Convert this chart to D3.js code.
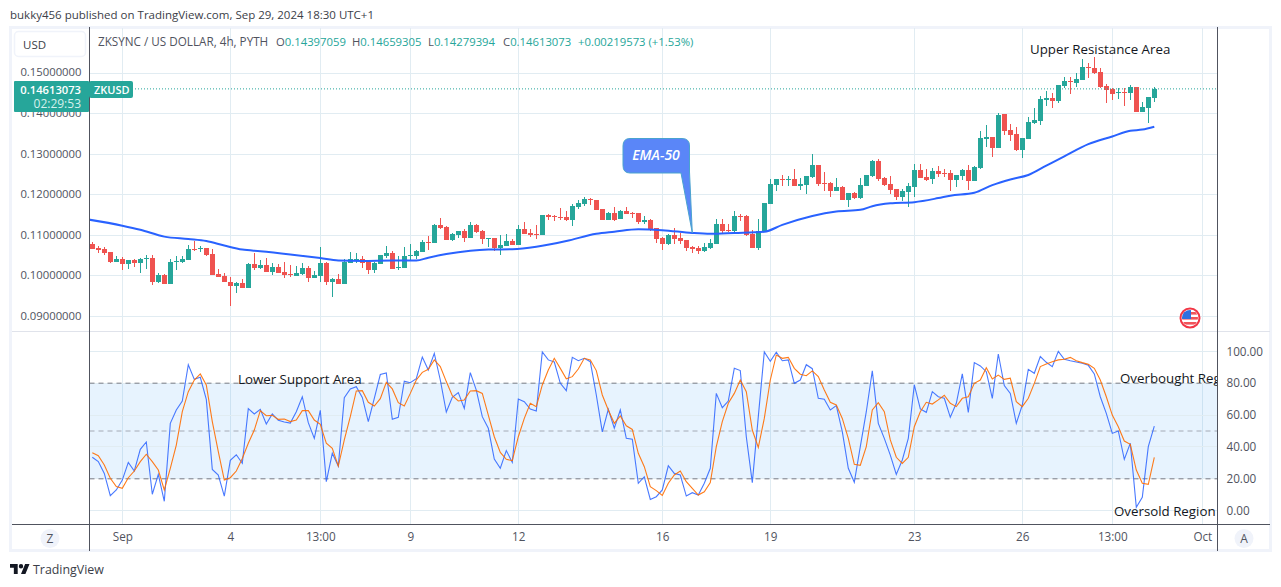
<!DOCTYPE html>
<html>
<head>
<meta charset="utf-8">
<script src="https://cdn.jsdelivr.net/npm/d3@7/dist/d3.min.js"></script>
<style>
html, body { margin: 0; padding: 0; background: #fff; }
svg { display: block; }
text { font-family: "Open Sans", sans-serif; }
</style>
</head>
<body>
<script>
// ZKUSD 4h candles, one entry per bar
var opens = [.1079,.1069,.1066,.1059,.1034,.1042,.1029,.1039,.1032,.1043,
    .1044,.0985,.1002,.0980,.1035,.1034,.1039,.1066,.1066,.1069,
    .1054,.1005,.1000,.0985,.0975,.0982,.0970,.1029,.1019,.1027,
    .1009,.1022,.1009,.1005,.1000,.1005,.1019,.0995,.1000,.1032,
    .0985,.0992,.0980,.1032,.1039,.1042,.1034,.1014,.1029,.1049,
    .1056,.1020,.1019,.1050,.1049,.1059,.1084,.1081,.1126,.1121,
    .1088,.1101,.1111,.1093,.1126,.1111,.1092,.1093,.1069,.1074,
    .1086,.1076,.1116,.1106,.1103,.1101,.1150,.1148,.1145,.1145,
    .1138,.1170,.1177,.1190,.1187,.1165,.1138,.1155,.1140,.1160,
    .1155,.1155,.1133,.1138,.1118,.1093,.1079,.1101,.1093,.1088,
    .1071,.1069,.1061,.1069,.1079,.1128,.1113,.1111,.1148,.1148,
    .1103,.1069,.1108,.1177,.1224,.1239,.1238,.1239,.1222,.1224,
    .1244,.1274,.1229,.1229,.1209,.1219,.1187,.1205,.1192,.1222,
    .1246,.1284,.1242,.1227,.1214,.1195,.1207,.1219,.1261,.1244,
    .1239,.1259,.1254,.1253,.1236,.1246,.1261,.1233,.1266,.1337,
    .1342,.1315,.1399,.1360,.1350,.1310,.1337,.1377,.1382,.1434,
    .1439,.1432,.1469,.1481,.1476,.1483,.1516,.1513,.1503,.1469,
    .1461,.1452,.1454,.1451,.1466,.1404,.1414,.14397];
var highs = [.1084,.1074,.1071,.1059,.1049,.1047,.1039,.1042,.1044,.1051,
    .1051,.1007,.1005,.1042,.1049,.1049,.1076,.1086,.1074,.1069,
    .1066,.1017,.1007,.0997,.0985,.0992,.1032,.1056,.1039,.1044,
    .1032,.1029,.1034,.1027,.1024,.1032,.1024,.1012,.1071,.1034,
    .0995,.1005,.1042,.1059,.1056,.1049,.1034,.1034,.1051,.1074,
    .1061,.1049,.1071,.1079,.1064,.1088,.1098,.1128,.1143,.1123,
    .1105,.1111,.1116,.1133,.1128,.1113,.1093,.1093,.1101,.1103,
    .1091,.1126,.1133,.1116,.1126,.1150,.1153,.1150,.1167,.1160,
    .1177,.1187,.1195,.1192,.1187,.1165,.1158,.1170,.1163,.1170,
    .1158,.1155,.1148,.1140,.1118,.1096,.1103,.1118,.1106,.1088,
    .1074,.1074,.1081,.1091,.1140,.1140,.1128,.1160,.1153,.1150,
    .1113,.1140,.1180,.1239,.1239,.1249,.1246,.1264,.1242,.1246,
    .1301,.1274,.1256,.1232,.1242,.1222,.1205,.1207,.1242,.1249,
    .1286,.1289,.1244,.1246,.1214,.1214,.1229,.1276,.1276,.1264,
    .1266,.1271,.1264,.1261,.1248,.1263,.1273,.1271,.1357,.1372,
    .1342,.1402,.1399,.1375,.1367,.1340,.1392,.1414,.1444,.1456,
    .1451,.1471,.1491,.1491,.1501,.1535,.1526,.1540,.1513,.1474,
    .1464,.1464,.1464,.1471,.1466,.1429,.1441,.14659];
var lows = [.1066,.1057,.1051,.1032,.1034,.1014,.1017,.1022,.1007,.1017,
    .0977,.0982,.0980,.0980,.1014,.1032,.1039,.1061,.1059,.1049,
    .1002,.0997,.0985,.0926,.0958,.0970,.0970,.1014,.1017,.1009,
    .1002,.1007,.0995,.0997,.1000,.1002,.0985,.0995,.0985,.0977,
    .0948,.0980,.0980,.1032,.1032,.1019,.1005,.1007,.1029,.1044,
    .1017,.1014,.1019,.1039,.1042,.1059,.1064,.1081,.1116,.1088,
    .1086,.1093,.1084,.1093,.1106,.1079,.1071,.1061,.1051,.1074,
    .1076,.1076,.1103,.1096,.1091,.1101,.1138,.1135,.1138,.1135,
    .1123,.1165,.1172,.1175,.1163,.1138,.1138,.1135,.1140,.1153,
    .1143,.1128,.1128,.1111,.1081,.1064,.1076,.1079,.1079,.1061,
    .1056,.1054,.1059,.1066,.1079,.1103,.1108,.1103,.1135,.1098,
    .1069,.1064,.1108,.1177,.1209,.1222,.1222,.1222,.1212,.1202,
    .1242,.1222,.1209,.1195,.1209,.1187,.1170,.1190,.1190,.1222,
    .1244,.1234,.1222,.1202,.1187,.1185,.1170,.1195,.1242,.1234,
    .1227,.1244,.1244,.1209,.1219,.1236,.1211,.1233,.1263,.1318,
    .1293,.1315,.1347,.1332,.1308,.1290,.1337,.1375,.1372,.1419,
    .1414,.1427,.1464,.1449,.1466,.1483,.1488,.1499,.1464,.1427,
    .1434,.1436,.1419,.1434,.1404,.1404,.1377,.14279];
var closes = [.1066,.1064,.1056,.1034,.1042,.1029,.1039,.1032,.1042,.1044,
    .0985,.1002,.0980,.1034,.1037,.1042,.1066,.1063,.1068,.1051,
    .1002,.0997,.0985,.0975,.0982,.0970,.1029,.1019,.1027,.1009,
    .1022,.1007,.1002,.1002,.1007,.1019,.0995,.1002,.1032,.0985,
    .0992,.0980,.1034,.1042,.1042,.1032,.1014,.1032,.1051,.1056,
    .1017,.1022,.1049,.1051,.1062,.1084,.1082,.1126,.1118,.1088,
    .1103,.1111,.1093,.1126,.1108,.1091,.1093,.1069,.1076,.1086,
    .1076,.1116,.1103,.1101,.1102,.1150,.1145,.1146,.1144,.1138,
    .1172,.1180,.1190,.1188,.1163,.1138,.1155,.1138,.1160,.1153,
    .1154,.1133,.1138,.1113,.1091,.1079,.1101,.1091,.1086,.1069,
    .1066,.1061,.1071,.1081,.1128,.1111,.1112,.1148,.1145,.1101,
    .1069,.1111,.1180,.1227,.1239,.1238,.1239,.1222,.1227,.1246,
    .1274,.1227,.1228,.1209,.1219,.1187,.1205,.1192,.1224,.1249,
    .1284,.1239,.1224,.1212,.1195,.1209,.1222,.1261,.1242,.1237,
    .1259,.1251,.1253,.1236,.1248,.1261,.1233,.1268,.1340,.1342,
    .1315,.1397,.1357,.1347,.1310,.1340,.1380,.1385,.1436,.1439,
    .1432,.1471,.1481,.1479,.1486,.1516,.1514,.1501,.1466,.1459,
    .1449,.1454,.1452,.1466,.1404,.1417,.1441,.14613];

// EMA-50, read at these bar positions
var emaIndex = [-1,5,8,12,16,19,22,25,28,33,38,41,45,50,54,56,59,63,66,70,74,79,84,87,91,95,100,103,107,112,115,120,124,128,130,133,137,141,143,147,150,153,156,159,162,166,170,173,175,177];
var emaValues = [.1140,.1124,.1114,.1097,.1091,.1086,.1075,.1065,.1061,.1053,.1044,.1038,.1037,.1038,.1038,.1045,.1054,.1062,.1065,.1066,.1072,.1086,.1104,.1109,.1115,.1113,.1106,.1104,.1106,.1109,.1126,.1148,.1159,.1163,.1172,.1179,.1182,.1192,.1198,.1205,.1224,.1238,.1249,.1272,.1295,.1325,.1344,.1358,.1361,.1368];

// lower pane oscillator, %K and %D
var stochK = [33.5,30.8,23.4,9.4,13,19.2,30.3,24.9,38.5,43.1,
    10.3,22.8,5.9,54.8,63.2,68.8,91.6,82.4,83.7,69.9,
    25.9,22.4,9.2,31.6,35.1,29.7,64,60.7,63.6,54.4,
    60.7,56.7,55.6,55,62.1,71.5,55.2,45.4,63,18.2,
    36,28,70.9,76.4,77.8,71.1,55.9,70.5,85.4,86.4,
    57.3,58.6,81.2,80.3,82.8,96.4,88.3,98.7,82,61.9,
    71.1,74.1,64.2,86.6,75.7,59,51.7,32.4,26.6,37.7,
    30.3,70.1,68.4,63.8,62.6,99.6,94.6,93.3,79.9,75.3,
    96.2,94.1,95.6,93.5,72.6,49.4,63.6,51.7,63.2,45.4,
    44.8,17.2,21.3,7.1,8.8,13,28.2,23.4,22.4,9.2,
    11.3,9.8,17.2,26.6,73.6,64.6,68.8,89.3,87.9,46.4,
    17.6,59,99.6,93.7,99.4,94.1,94.6,79.9,82,91.6,
    89.1,70.5,69.9,63.2,65.9,49.6,26.6,17.8,40.2,62.1,
    87.7,54.8,45.4,34.9,22.8,31.8,45.4,78.9,63.8,61.7,
    74.7,71.5,70.5,58.6,67.4,85.8,61.7,92.9,90.8,87.2,
    70.5,98.3,78.5,73.6,54.8,66.3,88.7,86.2,96.7,93.1,
    90.4,100,95,94.1,93.3,92.5,91.2,85.8,71.5,61.1,
    48.5,50,32.2,42.3,2.1,8.4,40.2,53.1];
var stochD = [36.4,34.5,28.7,20.3,15.1,14,20.7,24.9,30.8,35.4,
    30.8,25.5,13,26.6,41.2,62.1,74.7,82,85.8,78.9,
    55.9,37,19.2,20.7,24.9,32.8,42.3,50.6,62.8,59.6,
    59.8,57.3,57.5,55.9,56.9,62.8,62.8,56.9,54.2,42.3,
    39.1,28,44.4,59,75.1,75.3,68,65.7,70.3,80.5,
    76.4,67.8,65.7,73.6,82,86.8,88.7,94.6,90.4,81,
    72.2,68.8,69.5,75.1,75.3,73.6,60,46.4,36.6,32.2,
    31.4,46.4,57.9,67.4,65.3,78.9,88.3,95.6,89.3,82.8,
    84.1,88.9,95.6,94.6,87.9,72.6,63.2,54.8,59.4,53.3,
    51,36,27.6,15.1,12.6,9.6,17.2,22.4,24.9,18.2,
    14,9.8,11.9,17.6,40.2,55.9,67.4,73.6,82,74.7,
    50.6,39.7,57.9,82,97.7,95.6,96.2,89.3,85.6,84.7,
    87.7,84.1,75.7,68,66.3,57.9,45.4,29.1,28.5,40.2,
    63.2,67.8,62.1,44.4,33.5,29.7,33.5,52.7,62.1,68,
    66.9,69.5,72.4,67.4,65.3,70.5,71.5,79.9,82,89.7,
    82.6,85.1,82.4,83.1,68.4,65.3,70.5,79.9,90.4,92.1,
    93.5,94.6,95,96.2,94.1,92.9,91.8,89.3,82,71.5,
    60,52.7,43.7,41.6,25.5,17.2,16.5,33.5];

var priceTicks = [.15,.14,.13,.12,.11,.10,.09];
var oscTicks = [100,80,60,40,20,0];
var bandLines = [80,50,20];
var timeTickIndex = [5,23,38,53,71,95,113,137,155,170,185];
var timeTickLabels = ["Sep","4","13:00","9","12","16","19","23","26","13:00","Oct"];
var lastPrice = .14613073;

var width = 1281, height = 587;
var left = 89.5, right = 1217.5, paneSplit = 331.5, axisLine = 524.5;
var gridColor = "#e1ecf2", axisColor = "#50535e", labelColor = "#50535e", up = "#26a69a", down = "#ef5350";

var svg = d3.select("body").append("svg").attr("width", width).attr("height", height);

var xScale = d3.scaleLinear().domain([0, 185]).range([92.3, 1202.3]);
var yPrice = d3.scaleLinear().domain([.09, .15]).range([316.5, 73.2]);
var yOsc = d3.scaleLinear().domain([0, 100]).range([510.7, 351.3]);

svg.append("text").attr("x", 10).attr("y", 19).attr("font-size", 11.5).attr("fill", "#3b3e48")
    .text("bukky456 published on TradingView.com, Sep 29, 2024 18:30 UTC+1");

// outer frame
svg.append("rect").attr("x", 10.5).attr("y", 27.5).attr("width", 1260).attr("height", 523)
    .attr("fill", "#fff").attr("stroke", "#f0f3fa").attr("stroke-width", 3);

var defs = svg.append("defs");
defs.append("clipPath").attr("id", "priceClip").append("rect")
    .attr("x", left).attr("y", 28).attr("width", right - left).attr("height", paneSplit - 28);
defs.append("clipPath").attr("id", "oscClip").append("rect")
    .attr("x", left).attr("y", paneSplit).attr("width", right - left).attr("height", axisLine - paneSplit);

// grid
var grid = svg.append("g").attr("shape-rendering", "crispEdges").attr("stroke", gridColor);
grid.selectAll(".gx").data(timeTickIndex).enter().append("line")
    .attr("x1", d => xScale(d)).attr("x2", d => xScale(d)).attr("y1", 28).attr("y2", axisLine);
grid.selectAll(".gp").data(priceTicks).enter().append("line")
    .attr("x1", left).attr("x2", right).attr("y1", d => yPrice(d)).attr("y2", d => yPrice(d));

// band behind the oscillator
svg.append("rect").attr("x", left).attr("width", right - left)
    .attr("y", yOsc(80)).attr("height", yOsc(20) - yOsc(80)).attr("fill", "#2196f3").attr("fill-opacity", .11);

grid = svg.append("g").attr("shape-rendering", "crispEdges").attr("stroke", gridColor);
grid.selectAll(".go").data(oscTicks).enter().append("line")
    .attr("x1", left).attr("x2", right).attr("y1", d => yOsc(d)).attr("y2", d => yOsc(d));

svg.append("g").selectAll("line").data(bandLines).enter().append("line")
    .attr("x1", left).attr("x2", right).attr("y1", d => yOsc(d)).attr("y2", d => yOsc(d))
    .attr("stroke", "#787b86").attr("stroke-opacity", d => d == 50 ? .6 : 1).attr("stroke-dasharray", "5 4");

// candles
var pricePane = svg.append("g").attr("clip-path", "url(#priceClip)");
var candles = pricePane.append("g").attr("shape-rendering", "crispEdges");
candles.selectAll(".wick").data(opens).enter().append("rect")
    .attr("x", (d, i) => Math.round(xScale(i) - .5)).attr("width", 1)
    .attr("y", (d, i) => yPrice(highs[i])).attr("height", (d, i) => yPrice(lows[i]) - yPrice(highs[i]))
    .attr("fill", (d, i) => closes[i] >= d ? up : down);
candles.selectAll(".body").data(opens).enter().append("rect")
    .attr("x", (d, i) => Math.round(xScale(i) - .5) - 2).attr("width", 5)
    .attr("y", (d, i) => yPrice(Math.max(d, closes[i])))
    .attr("height", (d, i) => Math.max(1, Math.abs(yPrice(d) - yPrice(closes[i]))))
    .attr("fill", (d, i) => closes[i] >= d ? up : down);

var emaLine = d3.line().x((d, i) => xScale(emaIndex[i])).y(d => yPrice(d)).curve(d3.curveMonotoneX);
pricePane.append("path").attr("d", emaLine(emaValues))
    .attr("fill", "none").attr("stroke", "#2962ff").attr("stroke-width", 2);

pricePane.append("line").attr("x1", 135).attr("x2", right)
    .attr("y1", yPrice(lastPrice)).attr("y2", yPrice(lastPrice))
    .attr("stroke", up).attr("stroke-dasharray", "1 2");

// EMA-50 callout, tail points at the line
var tipX = xScale(100), tipY = yPrice(.1106);
var callout = d3.path();
callout.moveTo(630, 138.5);
callout.lineTo(682, 138.5);
callout.quadraticCurveTo(689.5, 138.5, 689.5, 146);
callout.lineTo(689.5, 172);
callout.lineTo(tipX, tipY);
callout.lineTo(681, 173);
callout.lineTo(630, 173);
callout.quadraticCurveTo(623, 173, 623, 165.5);
callout.lineTo(623, 146);
callout.quadraticCurveTo(623, 138.5, 630, 138.5);
callout.closePath();
svg.append("path").attr("d", callout.toString()).attr("fill", "#5a86f8").attr("stroke", "#4aa3cf").attr("stroke-width", 1);
svg.append("text").attr("x", 656).attr("y", 160).attr("text-anchor", "middle")
    .attr("font-size", 14).attr("font-style", "italic").attr("font-weight", 600).attr("fill", "#fff").text("EMA-50");

// oscillator
var oscPane = svg.append("g").attr("clip-path", "url(#oscClip)");
var oscLine = d3.line().x((d, i) => xScale(i)).y(d => yOsc(d));
oscPane.append("path").attr("d", oscLine(stochK)).attr("fill", "none").attr("stroke", "#2962ff").attr("stroke-opacity", .85).attr("stroke-width", 1.1);
oscPane.append("path").attr("d", oscLine(stochD)).attr("fill", "none").attr("stroke", "#ff6d00").attr("stroke-opacity", .9).attr("stroke-width", 1.1);

// notes written on the chart
var notes = svg.append("g").attr("font-size", 13.3).attr("fill", "#131722");
notes.append("text").attr("x", 1030).attr("y", 54).text("Upper Resistance Area");
notes.append("text").attr("x", 238).attr("y", 384).text("Lower Support Area");
oscPane.append("text").attr("x", 1120).attr("y", 383).attr("font-size", 13.3).attr("fill", "#131722").text("Overbought Reg");
notes.append("text").attr("x", 1114).attr("y", 516).text("Oversold Region");

// flag badge
var flag = svg.append("g").attr("transform", "translate(1190,318)");
defs.append("clipPath").attr("id", "flagClip").append("circle").attr("r", 8);
var flagInner = flag.append("g").attr("clip-path", "url(#flagClip)");
flagInner.append("rect").attr("x", -9).attr("y", -9).attr("width", 18).attr("height", 18).attr("fill", "#fff");
[-6, -1, 4].forEach(function(s) {
    flagInner.append("rect").attr("x", -9).attr("y", s).attr("width", 18).attr("height", 2.6).attr("fill", "#f0545a");
});
flagInner.append("rect").attr("x", -9).attr("y", -9).attr("width", 10).attr("height", 10).attr("fill", "#2f6fe0");
flag.append("circle").attr("r", 9.5).attr("fill", "none").attr("stroke", "#f23645").attr("stroke-width", 2);

// header
svg.append("text").attr("x", 98).attr("y", 46).attr("font-size", 11.7).attr("fill", labelColor).text("ZKSYNC / US DOLLAR, 4h, PYTH");
var legendLabels = ["O", "H", "L", "C"];
var legendX = [276, 352, 428, 503];
var legendValues = ["0.14397059", "0.14659305", "0.14279394", "0.14613073"];
legendLabels.forEach(function(s, i) {
    var t = svg.append("text").attr("x", legendX[i]).attr("y", 46).attr("font-size", 11.3).attr("fill", labelColor).text(s);
    t.append("tspan").attr("fill", up).text(legendValues[i]);
});
svg.append("text").attr("x", 578).attr("y", 46).attr("font-size", 11.3).attr("fill", up).text("+0.00219573 (+1.53%)");

// axes
svg.append("g").attr("transform", "translate(" + left + ",0)")
    .call(d3.axisLeft(yPrice).tickValues(priceTicks).tickSize(0).tickPadding(8).tickFormat(d3.format(".8f")))
    .call(g => g.select(".domain").remove())
    .selectAll("text").attr("font-size", 11.3).attr("dy", ".24em").attr("fill", labelColor).style("font-family", "'Open Sans', sans-serif");

svg.append("g").attr("transform", "translate(" + right + ",0)")
    .call(d3.axisRight(yOsc).tickValues(oscTicks).tickSize(0).tickPadding(9).tickFormat(d3.format(".2f")))
    .call(g => g.select(".domain").remove())
    .selectAll("text").attr("font-size", 11.7).attr("fill", labelColor).style("font-family", "'Open Sans', sans-serif");

svg.append("g").attr("transform", "translate(0," + axisLine + ")")
    .call(d3.axisBottom(xScale).tickValues(timeTickIndex).tickSize(0).tickPadding(8).tickFormat((d, i) => timeTickLabels[i]))
    .call(g => g.select(".domain").remove())
    .selectAll("text").attr("font-size", 11.7).attr("fill", labelColor).style("font-family", "'Open Sans', sans-serif");

// pane and axis rules
var rules = svg.append("g").attr("shape-rendering", "crispEdges");
rules.append("line").attr("x1", 12).attr("x2", 1270).attr("y1", paneSplit).attr("y2", paneSplit).attr("stroke", "#e0e3eb");
rules.append("line").attr("x1", 12).attr("x2", 1270).attr("y1", axisLine).attr("y2", axisLine).attr("stroke", axisColor);
rules.append("line").attr("x1", left).attr("x2", left).attr("y1", 27).attr("y2", 551).attr("stroke", axisColor);
rules.append("line").attr("x1", right).attr("x2", right).attr("y1", 27).attr("y2", 551).attr("stroke", axisColor);

// last price tags
svg.append("rect").attr("x", 14).attr("y", 81).attr("width", 75).attr("height", 31).attr("fill", up).attr("rx", 1);
svg.append("rect").attr("x", 89).attr("y", 81).attr("width", 44).attr("height", 17).attr("fill", up).attr("rx", 2);
svg.append("text").attr("x", 81).attr("y", 94).attr("text-anchor", "end").attr("font-size", 11.2).attr("font-weight", 600).attr("fill", "#fff").text("0.14613073");
svg.append("text").attr("x", 81).attr("y", 108).attr("text-anchor", "end").attr("font-size", 12).attr("fill", "#d6f0ec").text("02:29:53");
svg.append("text").attr("x", 94).attr("y", 94).attr("font-size", 11).attr("font-weight", 600).attr("fill", "#fff").text("ZKUSD");

// USD button and the two round buttons
svg.append("rect").attr("x", 14.5).attr("y", 31.5).attr("width", 71).attr("height", 25).attr("rx", 4)
    .attr("fill", "#fff").attr("stroke", "#f0f3fa").attr("stroke-width", 1.5);
svg.append("text").attr("x", 23).attr("y", 49).attr("font-size", 11.5).attr("fill", "#3b3e48").text("USD");
var roundButtons = [["Z", 50], ["A", 1244]];
roundButtons.forEach(function(b) {
    svg.append("circle").attr("cx", b[1]).attr("cy", 538.5).attr("r", 9.5).attr("fill", "#f0f3fa");
    svg.append("text").attr("x", b[1]).attr("y", 543).attr("text-anchor", "middle").attr("font-size", 12).attr("fill", labelColor).text(b[0]);
});

// footer logo
svg.append("path").attr("transform", "translate(10,561.8) scale(.55)")
    .attr("d", "M14 22H7V11H0V4h14v18zM28 22h-8l7.5-18h8L28 22z M20 4a4 4 0 1 1 0 8a4 4 0 0 1 0-8z").attr("fill", "#131722");
svg.append("text").attr("x", 33).attr("y", 574).attr("font-size", 12.4).attr("fill", "#3b3e48").text("TradingView");
</script>
</body>
</html>
